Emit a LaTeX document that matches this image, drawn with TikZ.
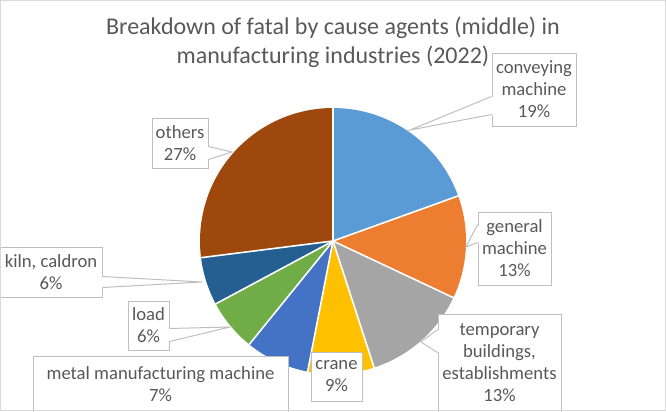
\documentclass[tikz,border=0pt]{standalone}
\usepackage{fontspec}
\setmainfont{Carlito}
\usetikzlibrary{calc}
\definecolor{txt}{HTML}{595959}
\definecolor{boxline}{HTML}{BFBFBF}
\definecolor{outerline}{HTML}{D9D9D9}
\definecolor{convc}{HTML}{5B9BD5}
\definecolor{genc}{HTML}{ED7D31}
\definecolor{tempc}{HTML}{A5A5A5}
\definecolor{cranec}{HTML}{FFC000}
\definecolor{metalc}{HTML}{4472C4}
\definecolor{loadc}{HTML}{70AD47}
\definecolor{kilnc}{HTML}{255E91}
\definecolor{othc}{HTML}{9E480E}
\begin{document}
\begin{tikzpicture}[x=0.75pt,y=-0.75pt,
  lbl/.style={draw=boxline, line width=0.75pt, fill=white, inner sep=0pt, align=center,
    text=txt, font=\fontsize{14}{16.5}\selectfont},
  titletext/.style={inner sep=0pt, text=txt, font=\fontsize{18}{21.75}\selectfont},
  sep/.style={draw=white, line width=1.2pt},
  ptr/.style={draw=boxline, line width=0.75pt, line join=miter}]
\useasboundingbox (0,0) rectangle (666,411);
\fill[white] (0,0) rectangle (666,411);
\coordinate (c) at (333,241);
% pie slices (clockwise from top)
\fill[convc]  (c) -- ++(-90:133)  arc[start angle=-90,  end angle=-19.8, radius=133] -- cycle;
\fill[genc]   (c) -- ++(-19.8:133) arc[start angle=-19.8, end angle=25.2, radius=133] -- cycle;
\fill[tempc]  (c) -- ++(25.2:133) arc[start angle=25.2, end angle=72,   radius=133] -- cycle;
\fill[cranec] (c) -- ++(72:133)   arc[start angle=72,   end angle=101,  radius=133] -- cycle;
\fill[metalc] (c) -- ++(101:133)  arc[start angle=101,  end angle=129,  radius=133] -- cycle;
\fill[loadc]  (c) -- ++(129:133)  arc[start angle=129,  end angle=151.8,radius=133] -- cycle;
\fill[kilnc]  (c) -- ++(151.8:133) arc[start angle=151.8,end angle=172.8,radius=133] -- cycle;
\fill[othc]   (c) -- ++(172.8:133) arc[start angle=172.8,end angle=270, radius=133] -- cycle;
\foreach \a in {-90,-19.8,25.2,72,101,129,151.8,172.8}
  \draw[sep] (c) -- ++(\a:133.5);
% title
\node[titletext, anchor=base] (t1) at (333,34) {Breakdown of fatal by cause agents (middle) in};
\node[titletext, anchor=base] (t2) at (333,63) {manufacturing industries (2022)};
% labels
\node[lbl, minimum width=84*0.75pt, minimum height=73*0.75pt] (conv) at (534,89.5) {conveying\\machine\\19\%};
\node[lbl, minimum width=73*0.75pt, minimum height=73*0.75pt] (gen) at (514.5,248.5) {general\\machine\\13\%};
\node[lbl, minimum width=123*0.75pt, minimum height=98*0.75pt] (temp) at (499.5,363) {temporary\\buildings,\\establishments\\13\%};
\node[lbl, minimum width=51*0.75pt, minimum height=49*0.75pt] (crane) at (336.5,376.5) {crane\\9\%};
\node[lbl, minimum width=255*0.75pt, minimum height=56*0.75pt] (metal) at (160.5,384) {metal manufacturing machine\\7\%};
\node[lbl, minimum width=41*0.75pt, minimum height=49*0.75pt] (load) at (148.5,325.5) {load\\6\%};
\node[lbl, minimum width=102*0.75pt, minimum height=50*0.75pt] (kiln) at (51,272) {kiln, caldron\\6\%};
\node[lbl, minimum width=56*0.75pt, minimum height=50*0.75pt] (oth) at (180,143) {others\\27\%};
% pointer tips
\coordinate (pconv) at (410,130);
\coordinate (pgen) at (466,247);
\coordinate (ptemp) at (421,342);
\coordinate (pload) at (230,327);
\coordinate (pkiln) at (202,282);
\coordinate (poth) at (232,152);
% callout pointers
\fill[white] ($(conv.north west)+(2,44)$) -- (pconv) -- ($(conv.north west)+(2,62)$) -- cycle;
\draw[ptr] ($(conv.north west)+(0,44)$) -- (pconv) -- ($(conv.north west)+(0,62)$);
\fill[white] ($(gen.north west)+(2,13)$) -- (pgen) -- ($(gen.north west)+(2,31)$) -- cycle;
\draw[ptr] ($(gen.north west)+(0,13)$) -- (pgen) -- ($(gen.north west)+(0,31)$);
\fill[white] ($(temp.north west)+(2,16)$) -- (ptemp) -- ($(temp.north west)+(2,39)$) -- cycle;
\draw[ptr] ($(temp.north west)+(0,16)$) -- (ptemp) -- ($(temp.north west)+(0,39)$);
\fill[white] ($(oth.north east)+(-2,29)$) -- (poth) -- ($(oth.north east)+(-2,42)$) -- cycle;
\draw[ptr] ($(oth.north east)+(0,29)$) -- (poth) -- ($(oth.north east)+(0,42)$);
\fill[white] ($(kiln.north east)+(-2,30)$) -- (pkiln) -- ($(kiln.north east)+(-2,41)$) -- cycle;
\draw[ptr] ($(kiln.north east)+(0,30)$) -- (pkiln) -- ($(kiln.north east)+(0,41)$);
\fill[white] ($(load.north east)+(-2,28)$) -- (pload) -- ($(load.north east)+(-2,41)$) -- cycle;
\draw[ptr] ($(load.north east)+(0,28)$) -- (pload) -- ($(load.north east)+(0,41)$);
% chart border
\draw[outerline, line width=0.75pt] (0.5,0.5) rectangle (665.5,410.5);
\end{tikzpicture}
\end{document}
